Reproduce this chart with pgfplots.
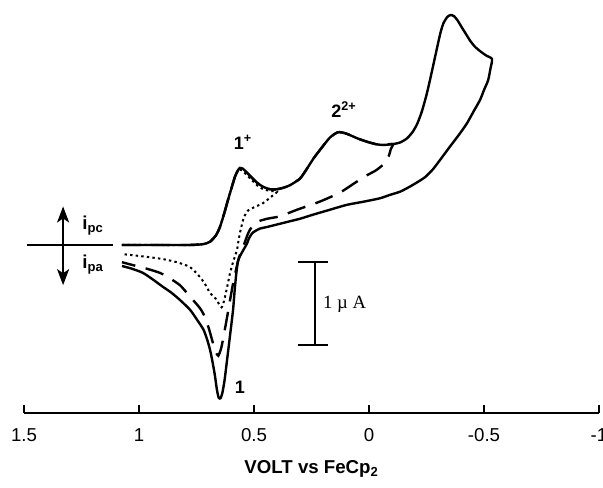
\documentclass[border=0pt]{standalone}
\usepackage{pgfplots}
\pgfplotsset{compat=1.18}
\usepackage{fontspec}
\setmainfont{Liberation Sans}
\newfontfamily\seriffont{Liberation Serif}
\usetikzlibrary{arrows.meta}

\pgfplotstableread{
x y
1.074 0
0.90 0
0.78 0.0
0.722 0.01
0.691 0.04
0.665 0.12
0.648 0.22
0.630 0.38
0.613 0.55
0.595 0.72
0.583 0.83
0.570 0.91
0.561 0.94
0.548 0.93
0.530 0.88
0.509 0.82
0.487 0.76
0.460 0.71
0.430 0.68
0.400 0.68
0.370 0.70
0.343 0.73
0.300 0.81
0.270 0.93
0.240 1.06
0.213 1.16
0.170 1.31
0.135 1.375
0.100 1.36
0.050 1.30
0.009 1.26
-0.030 1.23
-0.061 1.22
-0.104 1.23
-0.135 1.25
-0.165 1.30
-0.190 1.38
-0.210 1.48
-0.230 1.63
-0.250 1.83
-0.265 2.01
-0.280 2.20
-0.294 2.38
-0.310 2.58
-0.323 2.70
-0.340 2.78
-0.355 2.805
-0.370 2.79
-0.385 2.74
-0.400 2.67
-0.420 2.58
-0.440 2.49
-0.460 2.42
-0.485 2.36
-0.510 2.31
-0.535 2.268
-0.528 2.15
-0.518 2.01
-0.500 1.89
-0.483 1.77
-0.455 1.63
-0.425 1.48
-0.390 1.34
-0.352 1.20
-0.315 1.06
-0.280 0.93
-0.245 0.83
-0.207 0.76
-0.170 0.70
-0.135 0.65
-0.090 0.61
-0.048 0.57
0.020 0.53
0.096 0.49
0.170 0.43
0.243 0.37
0.300 0.32
0.343 0.29
0.400 0.25
0.443 0.22
0.474 0.20
0.495 0.17
0.509 0.14
0.522 0.08
0.530 0.02
0.540 -0.03
0.548 -0.07
0.560 -0.13
0.570 -0.20
0.577 -0.35
0.584 -0.55
0.591 -0.79
0.604 -1.10
0.617 -1.40
0.628 -1.65
0.638 -1.81
0.646 -1.87
0.654 -1.86
0.662 -1.75
0.670 -1.59
0.680 -1.43
0.691 -1.28
0.704 -1.15
0.720 -1.03
0.748 -0.91
0.778 -0.79
0.822 -0.67
0.860 -0.58
0.896 -0.51
0.940 -0.42
0.983 -0.34
1.030 -0.29
1.074 -0.256
}\solidcv

\pgfplotstableread{
x y
1.074 0
0.90 0
0.78 0.0
0.722 0.01
0.691 0.04
0.665 0.12
0.648 0.22
0.630 0.38
0.613 0.55
0.595 0.72
0.583 0.83
0.570 0.91
0.561 0.94
0.548 0.93
0.530 0.88
0.509 0.82
0.487 0.76
0.460 0.71
0.430 0.68
0.400 0.68
0.370 0.70
0.343 0.73
0.300 0.81
0.270 0.93
0.240 1.06
0.213 1.16
0.170 1.31
0.135 1.375
0.100 1.36
0.050 1.30
0.009 1.26
-0.030 1.23
-0.061 1.22
-0.104 1.232
-0.095 1.17
-0.085 1.08
-0.061 0.98
-0.030 0.91
0.009 0.85
0.060 0.76
0.126 0.64
0.213 0.53
0.313 0.43
0.387 0.35
0.443 0.32
0.487 0.28
0.517 0.19
0.530 0.11
0.539 0.04
0.552 -0.06
0.565 -0.15
0.578 -0.30
0.591 -0.47
0.604 -0.67
0.617 -0.88
0.630 -1.08
0.642 -1.25
0.655 -1.35
0.667 -1.30
0.678 -1.20
0.695 -1.03
0.713 -0.88
0.735 -0.77
0.778 -0.63
0.822 -0.49
0.870 -0.40
0.909 -0.34
0.965 -0.29
1.020 -0.25
1.074 -0.21
}\dashedcv

\pgfplotstableread{
x y
1.074 0
0.90 0
0.78 0.0
0.722 0.01
0.691 0.04
0.665 0.12
0.648 0.22
0.630 0.38
0.613 0.55
0.595 0.72
0.583 0.83
0.570 0.91
0.561 0.92
0.548 0.90
0.530 0.85
0.509 0.79
0.487 0.73
0.460 0.68
0.430 0.66
0.400 0.65
0.420 0.60
0.461 0.51
0.500 0.46
0.526 0.42
0.540 0.36
0.548 0.30
0.555 0.22
0.561 0.15
0.568 0.04
0.574 -0.06
0.590 -0.20
0.604 -0.34
0.615 -0.49
0.626 -0.63
0.635 -0.73
0.641 -0.76
0.650 -0.73
0.665 -0.66
0.691 -0.585
0.710 -0.49
0.735 -0.39
0.778 -0.27
0.835 -0.21
0.900 -0.17
0.980 -0.14
1.074 -0.11
}\dottedcv

\begin{document}
\begin{tikzpicture}
\begin{axis}[
  at={(0,0)}, anchor=south west,
  scale only axis, width=431.25pt, height=309.75pt,
  xmin=-1, xmax=1.5, x dir=reverse,
  ymin=-2.049, ymax=2.988,
  axis x line*=bottom, axis y line=none,
  axis line style={line width=1.8pt},
  xtick={1.5,1,0.5,0,-0.5,-1},
  xticklabels={1.5,1,0.5,0,-0.5,-1},
  tick align=inside, major tick length=6pt,
  tick style={line width=1.6pt, black},
  xticklabel style={font=\fontsize{14}{16}\selectfont, anchor=north, yshift=-8pt},
  xlabel={\textbf{VOLT vs FeCp\textsubscript{2}}},
  xlabel style={font=\fontsize{14}{16}\selectfont, at={(axis description cs:0.5,0)}, anchor=center, yshift=-42pt},
  clip=false,
]
\addplot[black, line width=1.5pt, dash pattern=on 1.8pt off 2.4pt, smooth, tension=0.4] table {\dottedcv};
\addplot[black, line width=1.8pt, dash pattern=on 14pt off 8pt, smooth, tension=0.4] table {\dashedcv};
\addplot[black, line width=1.8pt, smooth, tension=0.4] table {\solidcv};

% scale bar
\draw[line width=1.6pt] (axis cs:0.235,-0.207) -- (axis cs:0.235,-1.22);
\draw[line width=1.6pt] (axis cs:0.309,-0.207) -- (axis cs:0.178,-0.207);
\draw[line width=1.6pt] (axis cs:0.309,-1.22) -- (axis cs:0.178,-1.22);
\node[anchor=west, font=\seriffont\fontsize{14}{16}\selectfont] at (axis cs:0.22,-0.72) {1 \textmu\ A};

% current direction marker
\draw[line width=1.6pt] (axis cs:1.487,0) -- (axis cs:1.113,0);
\draw[line width=1.6pt, {Stealth[length=12pt,width=9pt,inset=3pt]}-{Stealth[length=12pt,width=9pt,inset=3pt]}] (axis cs:1.33,0.47) -- (axis cs:1.33,-0.49);
\node[font=\bfseries\fontsize{14}{16}\selectfont] at (axis cs:1.20,0.24) {i\textsubscript{pc}};
\node[font=\bfseries\fontsize{14}{16}\selectfont] at (axis cs:1.20,-0.24) {i\textsubscript{pa}};

% peak labels
\node[font=\bfseries\fontsize{13.5}{15}\selectfont] at (axis cs:0.548,1.25) {1\textsuperscript{+}};
\node[font=\bfseries\fontsize{13.5}{15}\selectfont] at (axis cs:0.109,1.65) {2\textsuperscript{2+}};
\node[font=\bfseries\fontsize{13.5}{15}\selectfont] at (axis cs:0.561,-1.74) {1};
\end{axis}
\pgfresetboundingbox
\path[use as bounding box] (-18pt,-55.5pt) rectangle (434.25pt,309.75pt);
\end{tikzpicture}
\end{document}
